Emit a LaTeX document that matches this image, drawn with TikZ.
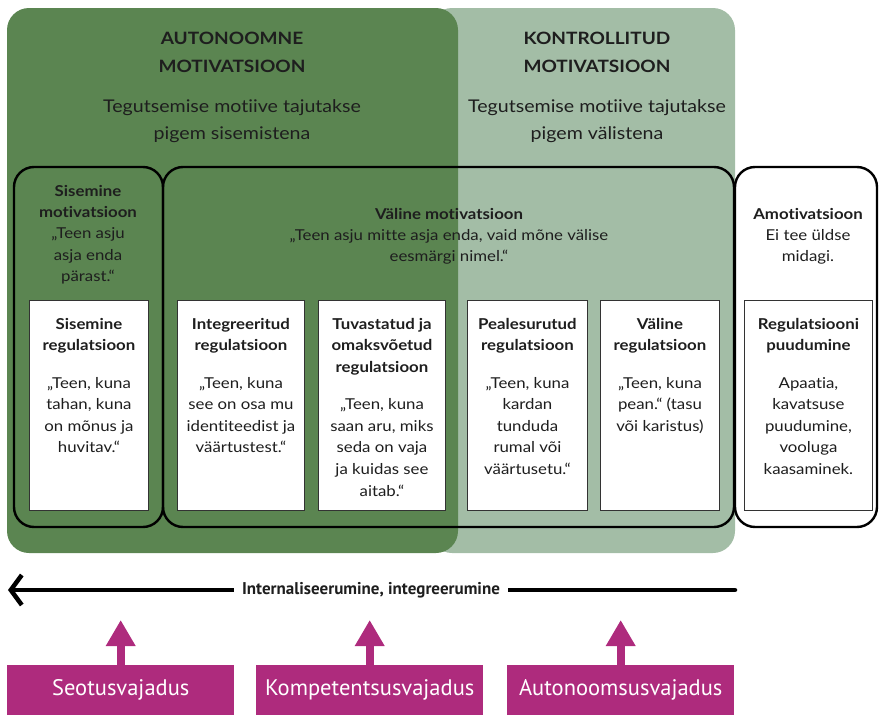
\documentclass[tikz,border=0pt]{standalone}
\usepackage{fontspec}
\setmainfont{Lato}[FakeStretch=1.12, Ligatures=NoCommon]
\newfontfamily\narrowfont{PT Sans}
\usetikzlibrary{arrows.meta}
\definecolor{autgreen}{HTML}{5B8551}
\definecolor{ctrlgreen}{HTML}{A3BDA6}
\definecolor{needpink}{HTML}{AE2B7D}
\definecolor{boxline}{HTML}{333333}
\definecolor{ink}{HTML}{1E1E1E}

\begin{document}
\begin{tikzpicture}[x=1pt,y=-1pt,
  every node/.style={inner sep=0pt, align=center, text=ink},
  hdr/.style={font=\fontsize{17}{28}\selectfont\bfseries, anchor=north},
  sub/.style={font=\fontsize{17.5}{27}\selectfont, anchor=north},
  grouptext/.style={font=\fontsize{15}{21.3}\selectfont, anchor=north},
  grouprim/.style={draw=black, line width=2.4pt, rounded corners=20pt},
  regbox/.style={draw=boxline, line width=0.9pt, fill=white, minimum height=210pt, anchor=north west},
  regtext/.style={font=\fontsize{15}{21.6}\selectfont, anchor=north},
  needbox/.style={fill=needpink, minimum width=227pt, minimum height=50pt, anchor=north west,
    text=white, font=\narrowfont\fontsize{22.5}{26}\selectfont},
  needarrow/.style={needpink, line width=8pt, -{Triangle[length=26pt, width=28pt]}},
]
\useasboundingbox (0,0) rectangle (879,715);

% motivation regions
\fill[ctrlgreen, rounded corners=22pt] (430,8) rectangle (735,553);
\fill[autgreen, rounded corners=22pt] (7,8) rectangle (458,553);

% group frames
\draw[grouprim] (14,167) rectangle (163,527);
\draw[grouprim] (163,167) rectangle (734,527);
\draw[grouprim, fill=white] (735,167) rectangle (877,527);

% regulation boxes
\node[regbox, minimum width=119pt] (sreg) at (29,300) {};
\node[regbox, minimum width=127pt] (ireg) at (177,300) {};
\node[regbox, minimum width=127pt] (treg) at (318,300) {};
\node[regbox, minimum width=120pt] (preg) at (467,300) {};
\node[regbox, minimum width=119pt] (vreg) at (600,300) {};
\node[regbox, minimum width=128pt] (nreg) at (744,300) {};

% headers
\node[hdr] (auttitle) at (232,32) {AUTONOOMNE\\MOTIVATSIOON};
\node[sub] (autsub) at (232,99) {Tegutsemise motiive tajutakse\\pigem sisemistena};
\node[hdr] (ctrltitle) at (597,32) {KONTROLLITUD\\MOTIVATSIOON};
\node[sub] (ctrlsub) at (597,99) {Tegutsemise motiive tajutakse\\pigem välistena};

% group texts
\node[grouptext] (sisgroup) at (88,185) {\textbf{Sisemine}\\\textbf{motivatsioon}\\„Teen asju\\asja enda\\pärast.“};
\node[grouptext] (valgroup) at (449,208) {\textbf{Väline motivatsioon}\\„Teen asju mitte asja enda, vaid mõne välise\\eesmärgi nimel.“};
\node[grouptext] (amotgroup) at (808,208) {\textbf{Amotivatsioon}\\Ei tee üldse\\midagi.};

% regulation texts
\node[regtext] (sregtext) at (sreg.north |- 0,318) {\textbf{Sisemine}\\\textbf{regulatsioon}\\[15.5pt]„Teen, kuna\\tahan, kuna\\on mõnus ja\\huvitav.“};
\node[regtext] (iregtext) at (ireg.north |- 0,318) {\textbf{Integreeritud}\\\textbf{regulatsioon}\\[15.5pt]„Teen, kuna\\see on osa mu\\identiteedist ja\\väärtustest.“};
\node[regtext] (tregtext) at (treg.north |- 0,318) {\textbf{Tuvastatud ja}\\\textbf{omaksvõetud}\\\textbf{regulatsioon}\\[15.5pt]„Teen, kuna\\saan aru, miks\\seda on vaja\\ja kuidas see\\aitab.“};
\node[regtext] (pregtext) at (preg.north |- 0,318) {\textbf{Pealesurutud}\\\textbf{regulatsioon}\\[15.5pt]„Teen, kuna\\kardan\\tunduda\\rumal või\\väärtusetu.“};
\node[regtext] (vregtext) at (vreg.north |- 0,318) {\textbf{Väline}\\\textbf{regulatsioon}\\[15.5pt]„Teen, kuna\\pean.“ (tasu\\või karistus)};
\node[regtext] (nregtext) at (nreg.north |- 0,318) {\textbf{Regulatsiooni}\\\textbf{puudumine}\\[15.5pt]Apaatia,\\kavatsuse\\puudumine,\\vooluga\\kaasaminek.};

% internalisation axis
\coordinate (axisR) at (735,590);
\coordinate (axisL) at (8,590);
\draw[line width=4.5pt, line cap=round, -{Straight Barb[length=11pt, width=30pt]}] (axisR) -- (axisL);
\node[fill=white, inner xsep=8pt, inner ysep=4pt, font=\narrowfont\bfseries\fontsize{17}{20}\selectfont] (axislabel) at (371,590) {Internaliseerumine, integreerumine};

% basic needs
\node[needbox] (need1) at (7,665) {Seotusvajadus};
\node[needbox] (need2) at (256,665) {Kompetentsusvajadus};
\node[needbox] (need3) at (507,665) {Autonoomsusvajadus};
\coordinate (tip1) at (need1.north |- 0,620);
\coordinate (tip2) at (need2.north |- 0,620);
\coordinate (tip3) at (need3.north |- 0,620);
\draw[needarrow] (need1.north) -- (tip1);
\draw[needarrow] (need2.north) -- (tip2);
\draw[needarrow] (need3.north) -- (tip3);
\end{tikzpicture}
\end{document}
